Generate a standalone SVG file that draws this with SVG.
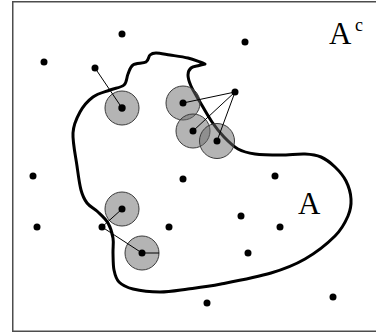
<svg xmlns="http://www.w3.org/2000/svg" width="376" height="333" viewBox="0 0 376 333">
<style>
.dot{fill:#000}
.disk{fill:#6a6a6a;fill-opacity:0.5;stroke:#3a3a3a;stroke-width:1}
.edge{stroke:#000;stroke-width:1;fill:none}
.lbl{font-family:"Liberation Serif","Times New Roman",serif;fill:#000}
</style>
<rect x="0" y="0" width="376" height="333" fill="#fff"/>
<rect x="12.75" y="1.75" width="380" height="329.5" fill="none" stroke="#4d4d4d" stroke-width="1.5"/>
<g id="region-boundary">
<path d="M188,289 C177.83,290.33 169.17,292 160,292 S139.83,290.67 133,289 S122.17,285.17 119,282 S115,274.83 114,270 S113.17,258.33 113,253 S113.83,243 113,238 S110.5,227.33 108,223 S101.5,215.33 98,212 S89.83,206.67 87,203 S82.67,196.17 81,190 S78.33,175.5 77,166 S72.5,142 73,133 S76.67,118 80,112 S88,100.67 93,97 S104.83,92 110,90 S121,87.67 124,85 S126.5,77.33 128,74 S130,67 133,65 S143.17,63.67 146,62 S148.33,56.5 150,55 S152.67,53 156,53 S164.67,54.17 170,55 S183,56.83 188,58 S197.17,61 200,62 S205,64 205,64 S201.33,64.83 199,65.5 S192.83,66.42 191,68 S188,72 188,75 S189,81.5 191,86 S196.5,96 200,102 S208,116.17 212,122 S219.67,132.5 224,137 S232.83,146.17 238,149 S247.83,153 255,154 S272.67,155 281,155 S298.33,153.67 305,154 S316,154.83 321,157 S330.83,163 335,167 S343.33,175.67 346,181 S350.67,193.17 351,199 S350.67,209.83 348,216 S342.17,228.83 335,236 S315.67,252.83 305,259 S285,268.83 271,273 S234.83,281.33 221,284 S198.17,287.67 188,289 Z" fill="none" stroke="#000" stroke-width="3" stroke-linejoin="round"/>
</g>
<g id="disks">
<circle id="disk1" class="disk" cx="122" cy="108" r="17"/>
<circle id="disk2" class="disk" cx="183" cy="103" r="17"/>
<circle id="disk3" class="disk" cx="193" cy="131" r="17"/>
<circle id="disk4" class="disk" cx="217" cy="141" r="17.5"/>
<circle id="disk5" class="disk" cx="122" cy="209" r="17"/>
<circle id="disk6" class="disk" cx="142" cy="253" r="17"/>
</g>
<g id="connectors">
<line class="edge" x1="95" y1="68" x2="122" y2="108"/>
<line class="edge" x1="235" y1="92" x2="183" y2="103"/>
<line class="edge" x1="235" y1="92" x2="193" y2="131"/>
<line class="edge" x1="235" y1="92" x2="217" y2="141"/>
<line class="edge" x1="122" y1="209" x2="102" y2="227"/>
<line class="edge" x1="102" y1="227" x2="142" y2="253"/>
<line class="edge" x1="142" y1="253" x2="159" y2="253"/>
</g>
<g id="points">
<circle class="dot" cx="122" cy="108" r="3.7"/>
<circle class="dot" cx="183" cy="103" r="3.5"/>
<circle class="dot" cx="193" cy="131" r="3.5"/>
<circle class="dot" cx="217" cy="141" r="3.5"/>
<circle class="dot" cx="122" cy="209" r="3.5"/>
<circle class="dot" cx="142" cy="253" r="3.5"/>
<circle class="dot" cx="122" cy="34" r="3.5"/>
<circle class="dot" cx="44" cy="62" r="3.5"/>
<circle class="dot" cx="95" cy="68" r="3.5"/>
<circle class="dot" cx="245" cy="42" r="3.5"/>
<circle class="dot" cx="235" cy="92" r="3.5"/>
<circle class="dot" cx="33" cy="176" r="3.5"/>
<circle class="dot" cx="183" cy="179" r="3.5"/>
<circle class="dot" cx="275" cy="176" r="3.5"/>
<circle class="dot" cx="37" cy="227" r="3.5"/>
<circle class="dot" cx="102" cy="227" r="3.5"/>
<circle class="dot" cx="169" cy="227" r="3.5"/>
<circle class="dot" cx="241" cy="216" r="3.5"/>
<circle class="dot" cx="280" cy="227" r="3.5"/>
<circle class="dot" cx="248" cy="253" r="3.5"/>
<circle class="dot" cx="207" cy="303" r="3.5"/>
<circle class="dot" cx="333" cy="297" r="3.5"/>
</g>
<g id="labels">
<text class="lbl" x="329" y="44" font-size="31">A</text>
<text class="lbl" x="355" y="31" font-size="18">c</text>
<text class="lbl" x="298" y="214" font-size="31">A</text>
</g>
</svg>
